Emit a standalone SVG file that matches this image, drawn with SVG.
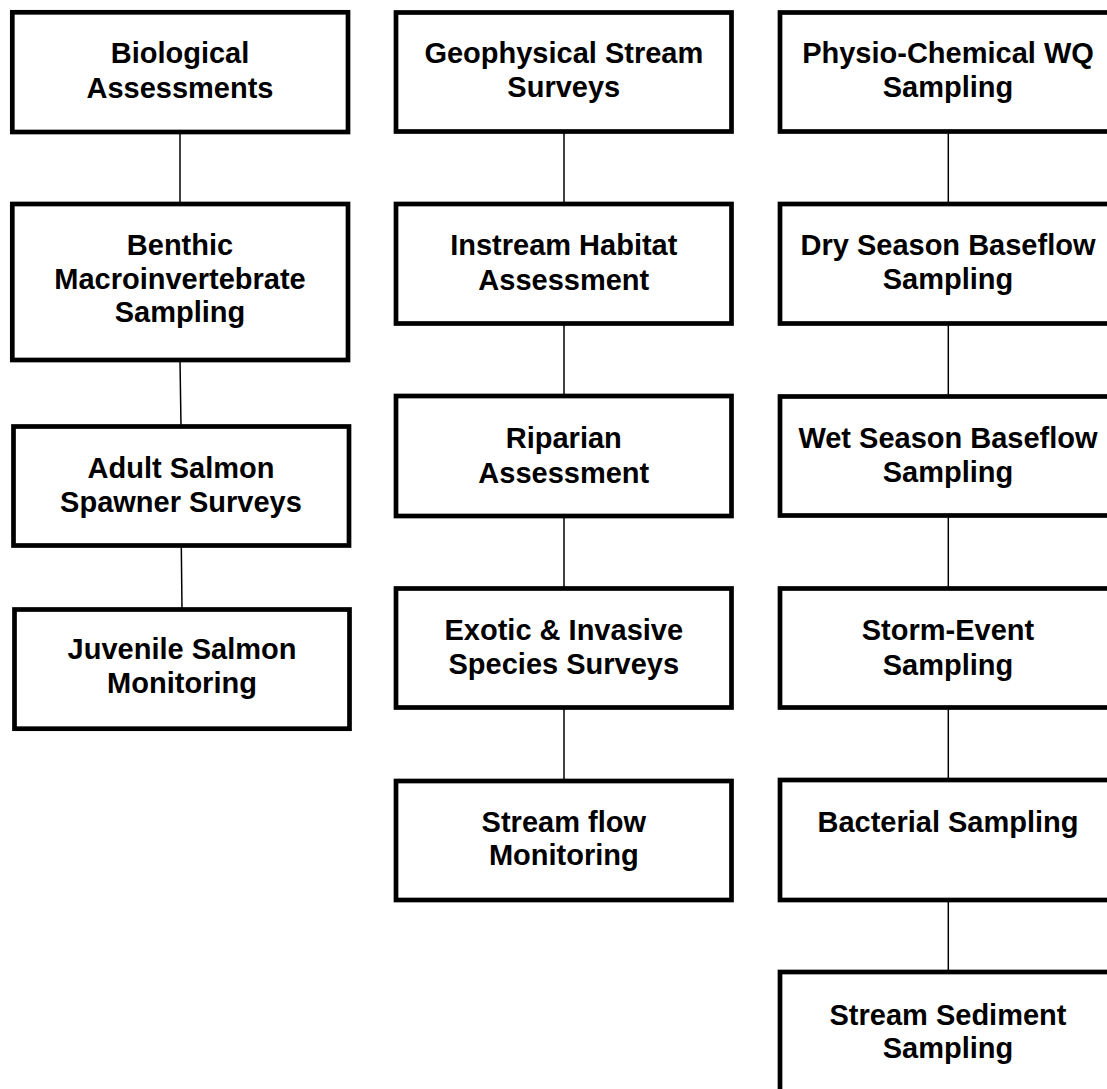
<svg xmlns="http://www.w3.org/2000/svg" width="1107" height="1089" viewBox="0 0 1107 1089">
<style>
.box{fill:#fff;stroke:#000;stroke-width:4.7}
.lbl{font-family:"Liberation Sans",Arial,sans-serif;font-weight:bold;font-size:29px;fill:#000;text-anchor:middle}
.conn line{stroke:#000;stroke-width:1.5}
</style>
<rect width="1107" height="1089" fill="#fff"/>
<g class="conn" id="connectors">
<line x1="180" y1="132" x2="180" y2="204"/>
<line x1="180" y1="360" x2="181" y2="426.5"/>
<line x1="181.3" y1="545.5" x2="182" y2="609.5"/>
<line x1="564" y1="131.5" x2="564" y2="204"/>
<line x1="564" y1="323.5" x2="564" y2="396"/>
<line x1="564" y1="516" x2="564" y2="588.5"/>
<line x1="564" y1="707.5" x2="564" y2="781"/>
<line x1="948.3" y1="131.5" x2="948.3" y2="204"/>
<line x1="948.3" y1="323.5" x2="948.3" y2="396.5"/>
<line x1="948.3" y1="515.5" x2="948.3" y2="588.5"/>
<line x1="948.3" y1="707.5" x2="948.3" y2="780"/>
<line x1="948.3" y1="900" x2="948.3" y2="972"/>
</g>
<g id="biological">
<rect class="box" x="12.3" y="12.3" width="335.7" height="119.7"/>
<text class="lbl" x="180" y="63.3">Biological</text>
<text class="lbl" x="180" y="98">Assessments</text>
</g>
<g id="benthic">
<rect class="box" x="12.3" y="204" width="335.7" height="156"/>
<text class="lbl" x="180" y="255">Benthic</text>
<text class="lbl" x="180" y="288.5">Macroinvertebrate</text>
<text class="lbl" x="180" y="322">Sampling</text>
</g>
<g id="adult-salmon">
<rect class="box" x="13.5" y="426.5" width="335.5" height="119"/>
<text class="lbl" x="181" y="478.3">Adult Salmon</text>
<text class="lbl" x="181" y="512">Spawner Surveys</text>
</g>
<g id="juvenile-salmon">
<rect class="box" x="14.5" y="609.5" width="335" height="119.2"/>
<text class="lbl" x="182" y="659">Juvenile Salmon</text>
<text class="lbl" x="182" y="693.3">Monitoring</text>
</g>
<g id="geophysical">
<rect class="box" x="396" y="12.5" width="335.5" height="119"/>
<text class="lbl" x="563.8" y="63.3">Geophysical Stream</text>
<text class="lbl" x="563.8" y="97">Surveys</text>
</g>
<g id="instream">
<rect class="box" x="396" y="204" width="335.5" height="119.5"/>
<text class="lbl" x="563.8" y="255">Instream Habitat</text>
<text class="lbl" x="563.8" y="290">Assessment</text>
</g>
<g id="riparian">
<rect class="box" x="396" y="396" width="335.5" height="120"/>
<text class="lbl" x="563.8" y="447.7">Riparian</text>
<text class="lbl" x="563.8" y="482.5">Assessment</text>
</g>
<g id="exotic">
<rect class="box" x="396" y="588.5" width="335.5" height="119"/>
<text class="lbl" x="563.8" y="640">Exotic &amp; Invasive</text>
<text class="lbl" x="563.8" y="673.5">Species Surveys</text>
</g>
<g id="streamflow">
<rect class="box" x="396" y="781" width="335.5" height="119"/>
<text class="lbl" x="563.8" y="831.7">Stream flow</text>
<text class="lbl" x="563.8" y="865">Monitoring</text>
</g>
<g id="physio">
<rect class="box" x="780" y="12.5" width="335.5" height="119"/>
<text class="lbl" x="948" y="63.3">Physio-Chemical WQ</text>
<text class="lbl" x="948" y="97">Sampling</text>
</g>
<g id="dry-season">
<rect class="box" x="780" y="204" width="335.5" height="119.5"/>
<text class="lbl" x="948" y="255">Dry Season Baseflow</text>
<text class="lbl" x="948" y="288.5">Sampling</text>
</g>
<g id="wet-season">
<rect class="box" x="780" y="396.5" width="335.5" height="119"/>
<text class="lbl" x="948" y="448">Wet Season Baseflow</text>
<text class="lbl" x="948" y="481.7">Sampling</text>
</g>
<g id="storm-event">
<rect class="box" x="780" y="588.5" width="335.5" height="119"/>
<text class="lbl" x="948" y="640">Storm-Event</text>
<text class="lbl" x="948" y="674.5">Sampling</text>
</g>
<g id="bacterial">
<rect class="box" x="780" y="780" width="335.5" height="120"/>
<text class="lbl" x="948" y="831.7">Bacterial Sampling</text>
</g>
<g id="sediment">
<rect class="box" x="780" y="972" width="335.5" height="130"/>
<text class="lbl" x="948" y="1025">Stream Sediment</text>
<text class="lbl" x="948" y="1058.3">Sampling</text>
</g>
</svg>
